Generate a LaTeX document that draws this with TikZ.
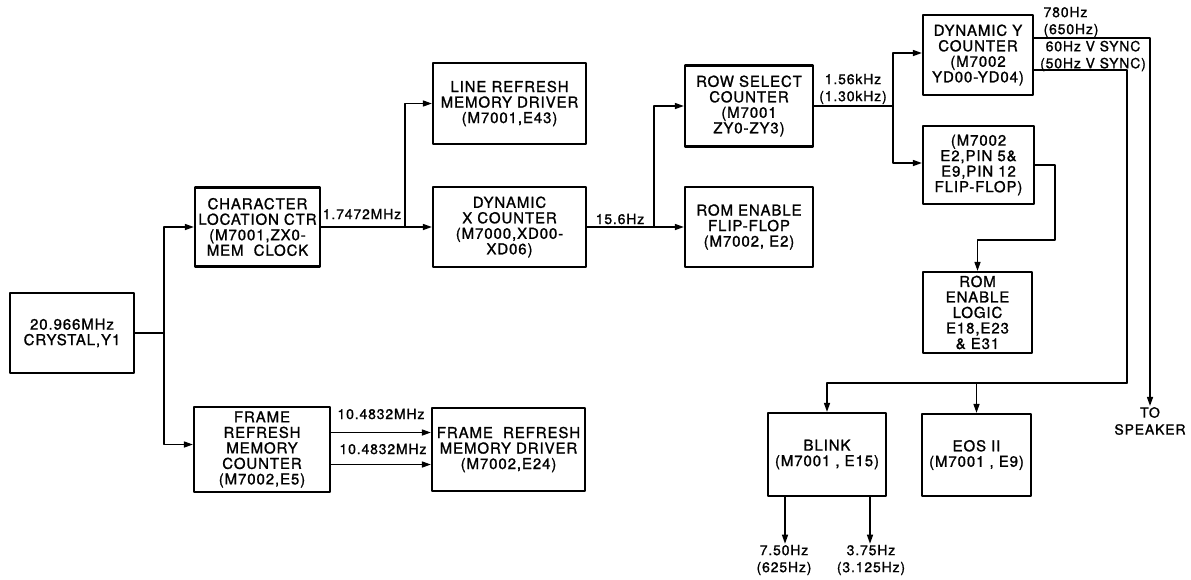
\documentclass[tikz,border=0pt]{standalone}
\usepackage{fontspec}
\setmainfont[LetterSpace=6,FakeBold=1.2]{TeX Gyre Heros}
\usetikzlibrary{arrows.meta}
\tikzset{
  blk/.style={draw, line width=2.2pt, align=center, inner sep=0pt, font=\fontsize{15}{15.5}\selectfont},
  lbl/.style={align=center, inner sep=1pt, font=\fontsize{14}{17}\selectfont},
  wire/.style={line width=1.4pt},
}
\begin{document}
\begin{tikzpicture}[x=1pt,y=-1pt,line cap=round,line join=round,>={Triangle[length=9pt,width=6pt]}]
\useasboundingbox (0,0) rectangle (1191,579);
%blocks
    \node[blk, minimum width=124, minimum height=80] at (72,333)   (xtal) {20.966MHz\\CRYSTAL,Y1};
    \node[blk, minimum width=125, minimum height=79] at (257.5,227)   (charloc) {CHARACTER\\LOCATION CTR\\(M7001,ZX0-\\MEM~~CLOCK};
    \node[blk, minimum width=136, minimum height=85] at (262,449.5)   (framectr) {FRAME\\REFRESH\\MEMORY\\COUNTER\\(M7002,E5)};
    \node[blk, minimum width=153, minimum height=81] at (509.5,103.5)   (linedrv) {LINE REFRESH\\MEMORY DRIVER\\(M7001,E43)};
    \node[blk, minimum width=153, minimum height=80] at (509.5,227)   (dynx) {DYNAMIC\\X COUNTER\\(M7000,XD00-\\XD06)};
    \node[blk, minimum width=153, minimum height=83] at (508.5,449.5)   (framedrv) {FRAME~~REFRESH\\MEMORY DRIVER\\(M7002,E24)};
    \node[blk, minimum width=128, minimum height=81] at (749,106)   (rowsel) {ROW SELECT\\COUNTER\\(M7001\\ZY0-ZY3)};
    \node[blk, minimum width=128, minimum height=80] at (749,227)   (romff) {ROM~ENABLE\\FLIP-FLOP\\(M7002, E2)};
    \node[blk, minimum width=110, minimum height=80] at (978,55)   (dyny) {DYNAMIC Y\\COUNTER\\(M7002\\YD00-YD04)};
    \node[blk, minimum width=111, minimum height=78] at (978.5,165)   (flipflop) {(M7002\\E2,PIN 5\&\\E9,PIN 12\\FLIP-FLOP)};
    \node[blk, minimum width=109, minimum height=81] at (977.5,312.5)   (romlogic) {ROM\\ENABLE\\LOGIC\\E18,E23\\\& E31};
    \node[blk, minimum width=118, minimum height=83] at (827,454.5)   (blink) {BLINK\\(M7001 , E15)};
    \node[blk, minimum width=109, minimum height=82] at (976.5,455)   (eos) {EOS II\\(M7001 , E9)};
%labels
    \node[lbl] at (362,214)   (fchar) {1.7472MHz};
    \node[lbl] at (620,219)   (fdynx) {15.6Hz};
    \node[lbl] at (853,89)   (frow) {1.56kHz\\(1.30kHz)};
    \node[lbl, align=left] at (1071,22)   (fspk) {780Hz\\(650Hz)};
    \node[lbl] at (1093,56)   (fsync) {60Hz V SYNC\\(50Hz V SYNC)};
    \node[lbl] at (381,414)   (fmemA) {10.4832MHz};
    \node[lbl] at (383,449)   (fmemB) {10.4832MHz};
    \node[lbl] at (784,560)   (fblA) {7.50Hz\\(625Hz)};
    \node[lbl] at (871,560)   (fblB) {3.75Hz\\(3.125Hz)};
    \node[lbl] at (1150,421)   (spk) {TO\\SPEAKER};
%junctions
\coordinate (jxtal) at (164,333);
\coordinate (jchar) at (405,227);
\coordinate (jdynx) at (654,227);
\coordinate (jrow) at (893,106);
\coordinate (jsync) at (1127,383);
\coordinate (jff) at (1055,240);
\coordinate (bA) at ([xshift=-42pt]blink.south);
\coordinate (bB) at ([xshift=43pt]blink.south);
%crystal
\draw [wire] (xtal.east) -- (jxtal);
\draw [wire,->] (jxtal) |- (charloc.west);
\draw [wire,->] (jxtal) |- ([yshift=5pt]framectr.west);
%char location
\draw [wire,->] (charloc.east) -- (dynx.west);
\draw [wire,->] (jchar) |- (linedrv.west);
%dynamic x
\draw [wire,->] (dynx.east) -- (romff.west);
\draw [wire,->] (jdynx) |- (rowsel.west);
%row select
\draw [wire] (rowsel.east) -- (jrow);
\draw [wire,->] (jrow) |- ([yshift=2pt]dyny.west);
\draw [wire,->] (jrow) |- ([yshift=2pt]flipflop.west);
%dynamic y
\draw [wire,->] ([yshift=17pt]dyny.east) -| (spk.north);
\draw [wire] ([yshift=-15pt]dyny.east) -| (jsync);
\draw [wire,->] (jsync) -| (blink.north);
\draw [wire,->] (eos.north |- jsync) -- (eos.north);
%flip-flop
\draw [wire,->] (flipflop.east) -| (jff) -| (romlogic.north);
%frame refresh
\draw [wire,->] ([yshift=17pt]framectr.east) -- ([yshift=17pt]framedrv.west);
\draw [wire,->] ([yshift=-15pt]framectr.east) -- ([yshift=-15pt]framedrv.west);
%blink
\draw [wire,->] (bA) -- (bA |- fblA.north);
\draw [wire,->] (bB) -- (bB |- fblB.north);
\end{tikzpicture}
\end{document}
